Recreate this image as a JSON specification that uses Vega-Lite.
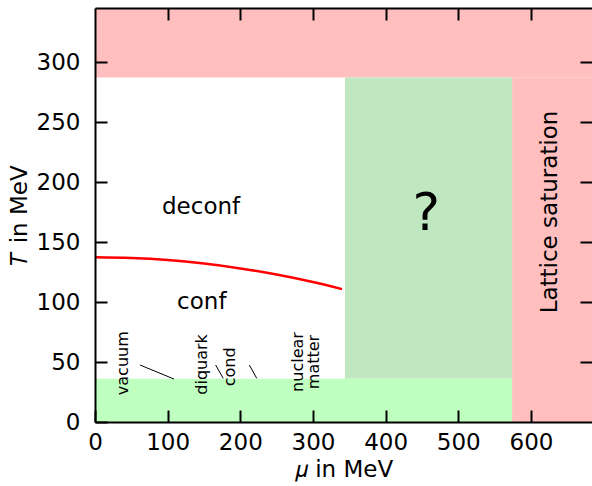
{
  "$schema": "https://vega.github.io/schema/vega-lite/v6.json",
  "width": 497,
  "height": 414,
  "autosize": {"type": "none"},
  "padding": {"left": 95, "top": 8, "right": 0, "bottom": 64},
  "config": {
    "view": {"stroke": null},
    "font": "DejaVu Sans",
    "axis": {
      "grid": false,
      "tickColor": "black",
      "tickWidth": 2,
      "domainColor": "black",
      "domainWidth": 2,
      "labelColor": "black",
      "labelFont": "DejaVu Sans",
      "labelFontSize": 23,
      "labelFlush": false,
      "labelOverlap": false,
      "titleColor": "black",
      "titleFont": "DejaVu Sans",
      "titleFontSize": 23,
      "titleFontWeight": "normal"
    }
  },
  "datasets": {
    "regions": [
      {"region": "lattice saturation (T)", "mu_lo": 0, "mu_hi": 684, "T_lo": 287, "T_hi": 345},
      {"region": "lattice saturation (mu)", "mu_lo": 574, "mu_hi": 684, "T_lo": 0, "T_hi": 287},
      {"region": "low T", "mu_lo": 0, "mu_hi": 574, "T_lo": 0, "T_hi": 36},
      {"region": "unknown", "mu_lo": 344, "mu_hi": 574, "T_lo": 36, "T_hi": 287}
    ],
    "transition": [
      {"mu": 0, "T": 137.2},
      {"mu": 50, "T": 136.6},
      {"mu": 100, "T": 134.9},
      {"mu": 150, "T": 132.0},
      {"mu": 200, "T": 128.0},
      {"mu": 250, "T": 122.9},
      {"mu": 300, "T": 116.6},
      {"mu": 340, "T": 110.7}
    ],
    "phases": [
      {"label": "deconf", "mu": 146, "T": 179},
      {"label": "conf", "mu": 147, "T": 100}
    ],
    "unknown": [
      {"label": "?", "mu": 456, "T": 173}
    ],
    "saturation": [
      {"label": "Lattice saturation", "mu": 626, "T": 175}
    ],
    "lowT": [
      {"label": "vacuum", "mu": 39, "T": 49},
      {"label": "diquark", "mu": 147, "T": 48},
      {"label": "cond", "mu": 186, "T": 46},
      {"label": "nuclear", "mu": 279, "T": 50},
      {"label": "matter", "mu": 301, "T": 50}
    ],
    "pointers": [
      {"mu_a": 62, "T_a": 47.5, "mu_b": 108.7, "T_b": 35.8},
      {"mu_a": 166, "T_a": 47.5, "mu_b": 176.5, "T_b": 36.4},
      {"mu_a": 212.4, "T_a": 47.5, "mu_b": 222.6, "T_b": 36.4}
    ]
  },
  "resolve": {
    "scale": {"x": "independent", "y": "independent"},
    "axis": {"x": "independent", "y": "independent"}
  },
  "layer": [
    {
      "data": {"name": "regions"},
      "mark": {"type": "rect"},
      "encoding": {
        "x": {
          "field": "mu_lo", "type": "quantitative",
          "scale": {"domain": [0, 684], "nice": false, "zero": false},
          "axis": {
            "orient": "bottom",
            "values": [0, 100, 200, 300, 400, 500, 600],
            "tickSize": -12,
            "labelPadding": 21,
            "title": "𝜇 in MeV",
            "titlePadding": 4,
            "zindex": 2
          }
        },
        "x2": {"field": "mu_hi"},
        "y": {
          "field": "T_lo", "type": "quantitative",
          "scale": {"domain": [0, 345], "nice": false, "zero": false},
          "axis": {
            "orient": "left",
            "values": [0, 50, 100, 150, 200, 250, 300],
            "tickSize": -12,
            "labelPadding": 27,
            "title": "𝑇 in MeV",
            "titlePadding": 5,
            "zindex": 2
          }
        },
        "y2": {"field": "T_hi"},
        "color": {
          "field": "region", "type": "nominal",
          "scale": {
            "domain": ["lattice saturation (T)", "lattice saturation (mu)", "low T", "unknown"],
            "range": ["#ffbfbf", "#ffbfbf", "#bfffbf", "#c0e8c0"]
          },
          "legend": null
        }
      }
    },
    {
      "data": {"name": "transition"},
      "mark": {"type": "line", "color": "#ff0000", "strokeWidth": 2.5, "interpolate": "monotone"},
      "encoding": {
        "x": {
          "field": "mu", "type": "quantitative",
          "scale": {"domain": [0, 684], "nice": false, "zero": false},
          "axis": {"orient": "top", "values": [100, 200, 300, 400, 500, 600], "tickSize": -12, "labels": false, "title": null, "zindex": 2}
        },
        "y": {
          "field": "T", "type": "quantitative",
          "scale": {"domain": [0, 345], "nice": false, "zero": false},
          "axis": {"orient": "right", "values": [50, 100, 150, 200, 250, 300], "tickSize": -12, "domain": false, "labels": false, "title": null, "zindex": 2}
        }
      }
    },
    {
      "data": {"name": "pointers"},
      "mark": {"type": "rule", "color": "black", "strokeWidth": 1},
      "encoding": {
        "x": {
          "field": "mu_a", "type": "quantitative",
          "scale": {"domain": [0, 684], "nice": false, "zero": false},
          "axis": null
        },
        "x2": {"field": "mu_b"},
        "y": {
          "field": "T_a", "type": "quantitative",
          "scale": {"domain": [0, 345], "nice": false, "zero": false},
          "axis": null
        },
        "y2": {"field": "T_b"}
      }
    },
    {
      "data": {"name": "phases"},
      "mark": {"type": "text", "fontSize": 23, "align": "center", "baseline": "middle", "color": "black"},
      "encoding": {
        "x": {
          "field": "mu", "type": "quantitative",
          "scale": {"domain": [0, 684], "nice": false, "zero": false},
          "axis": null
        },
        "y": {
          "field": "T", "type": "quantitative",
          "scale": {"domain": [0, 345], "nice": false, "zero": false},
          "axis": null
        },
        "text": {"field": "label"}
      }
    },
    {
      "data": {"name": "unknown"},
      "mark": {"type": "text", "fontSize": 52, "align": "center", "baseline": "middle", "color": "black"},
      "encoding": {
        "x": {
          "field": "mu", "type": "quantitative",
          "scale": {"domain": [0, 684], "nice": false, "zero": false},
          "axis": null
        },
        "y": {
          "field": "T", "type": "quantitative",
          "scale": {"domain": [0, 345], "nice": false, "zero": false},
          "axis": null
        },
        "text": {"field": "label"}
      }
    },
    {
      "data": {"name": "saturation"},
      "mark": {"type": "text", "fontSize": 23, "angle": 270, "align": "center", "baseline": "middle", "color": "black"},
      "encoding": {
        "x": {
          "field": "mu", "type": "quantitative",
          "scale": {"domain": [0, 684], "nice": false, "zero": false},
          "axis": null
        },
        "y": {
          "field": "T", "type": "quantitative",
          "scale": {"domain": [0, 345], "nice": false, "zero": false},
          "axis": null
        },
        "text": {"field": "label"}
      }
    },
    {
      "data": {"name": "lowT"},
      "mark": {"type": "text", "fontSize": 16, "angle": 270, "align": "center", "baseline": "middle", "color": "black"},
      "encoding": {
        "x": {
          "field": "mu", "type": "quantitative",
          "scale": {"domain": [0, 684], "nice": false, "zero": false},
          "axis": null
        },
        "y": {
          "field": "T", "type": "quantitative",
          "scale": {"domain": [0, 345], "nice": false, "zero": false},
          "axis": null
        },
        "text": {"field": "label"}
      }
    }
  ]
}
